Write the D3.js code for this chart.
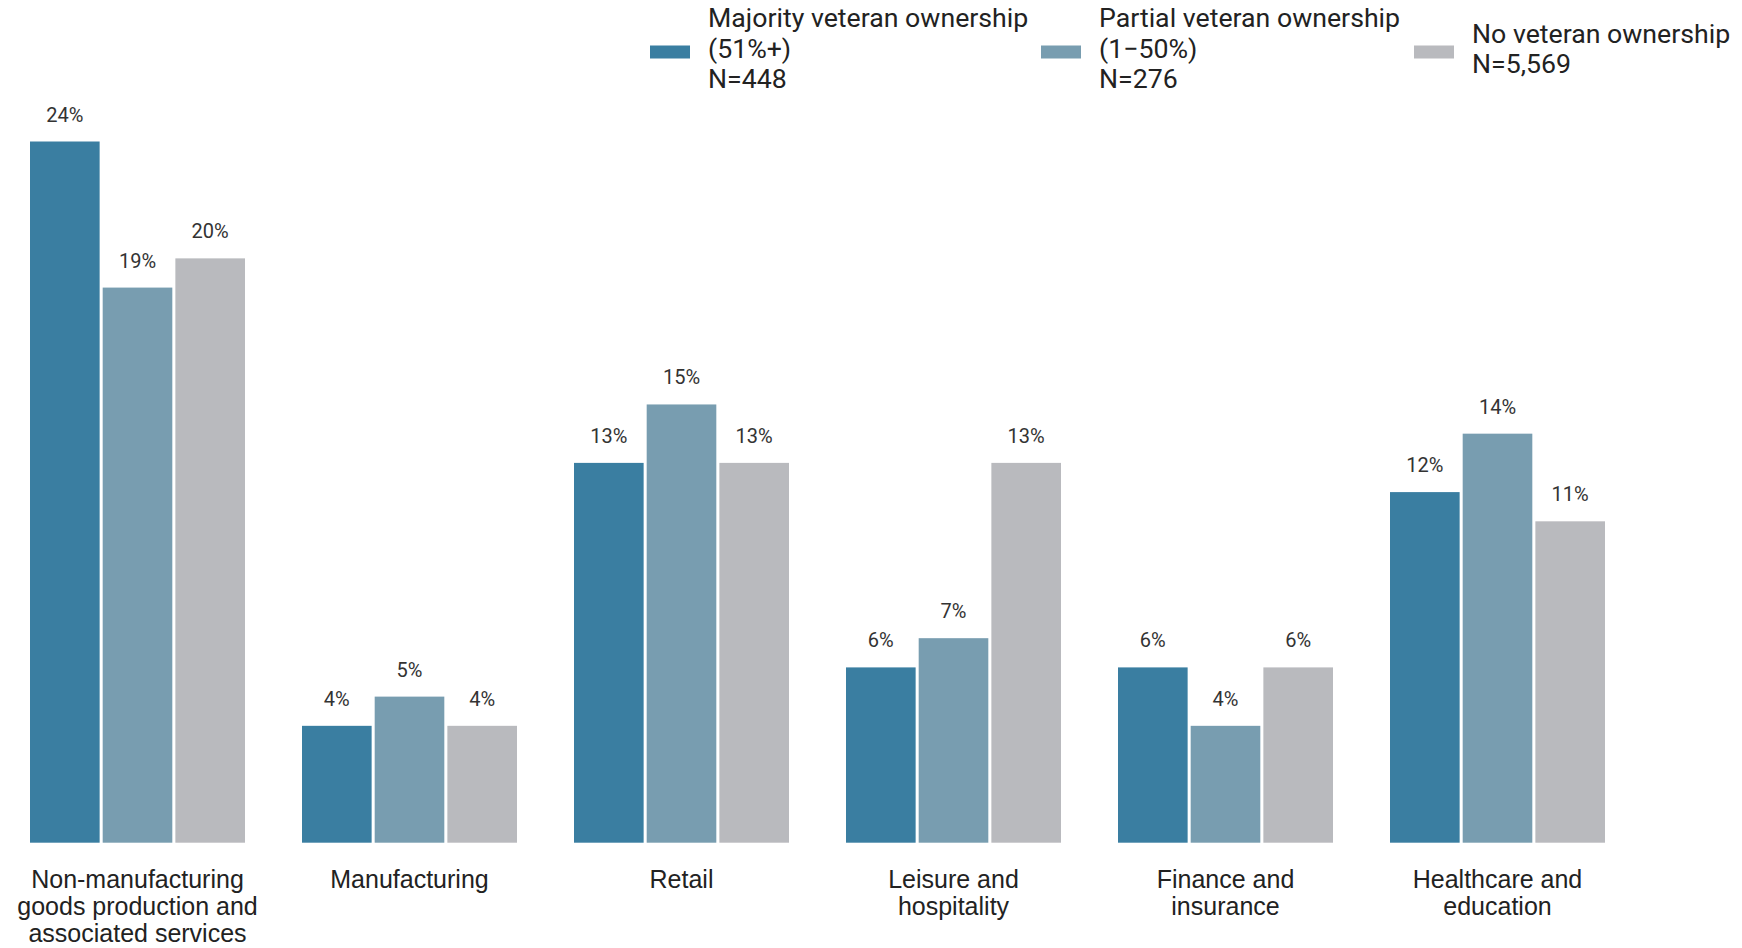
<!DOCTYPE html>
<html>
<head>
<meta charset="utf-8">
<script src="https://cdn.jsdelivr.net/npm/d3@7"></script>
<style>
  html, body { margin: 0; padding: 0; background: #fff; }
  svg { display: block; }
</style>
</head>
<body>
<svg id="chart" width="1742" height="948"></svg>
<script>
const categories = [
  "Non-manufacturing\ngoods production and\nassociated services",
  "Manufacturing",
  "Retail",
  "Leisure and\nhospitality",
  "Finance and\ninsurance",
  "Healthcare and\neducation"
];
const seriesNames = ["Majority", "Partial", "None"];
const legendLines = [
  ["Majority veteran ownership", "(51%+)", "N=448"],
  ["Partial veteran ownership", "(1\u221250%)", "N=276"],
  ["No veteran ownership", "N=5,569"]
];
const majorityValues = [24, 4, 13, 6, 6, 12];
const partialValues  = [19, 5, 15, 7, 4, 14];
const noneValues     = [20, 4, 13, 13, 6, 11];
const valuesBySeries = [majorityValues, partialValues, noneValues];
const colors = ["#3a7ea1", "#789db0", "#b9babe"];

const svg = d3.select("#chart");

const x0 = d3.scaleBand().domain(categories).range([1.5, 1633.5])
  .paddingInner(57 / 272).paddingOuter(57 / 544);
const x1 = d3.scaleBand().domain(seriesNames).range([0, x0.bandwidth()])
  .paddingInner(0.042).paddingOuter(0);
const y = d3.scaleLinear().domain([0, 24]).range([842.7, 141.5]);

const groups = svg.append("g").selectAll("g")
  .data(categories)
  .join("g")
  .attr("transform", d => `translate(${x0(d)},0)`);

groups.each(function(cat, ci) {
  const g = d3.select(this);
  const rows = seriesNames.map((s, si) => ({ s, si, v: valuesBySeries[si][ci] }));
  g.selectAll("rect")
    .data(rows)
    .join("rect")
    .attr("x", d => x1(d.s))
    .attr("y", d => y(d.v))
    .attr("width", x1.bandwidth())
    .attr("height", d => y(0) - y(d.v))
    .attr("fill", d => colors[d.si]);
  g.selectAll("text.val")
    .data(rows)
    .join("text")
    .attr("class", "val")
    .attr("x", d => x1(d.s) + x1.bandwidth() / 2)
    .attr("y", d => y(d.v) - 20)
    .attr("text-anchor", "middle")
    .attr("font-family", "Roboto, sans-serif")
    .attr("font-size", 20)
    .attr("fill", "#333")
    .text(d => d.v + "%");
});

// category labels
const catLabels = svg.append("g").selectAll("text")
  .data(categories)
  .join("text")
  .attr("x", d => x0(d) + x0.bandwidth() / 2)
  .attr("y", 887.5)
  .attr("text-anchor", "middle")
  .attr("font-family", "'Liberation Sans', Arial, sans-serif")
  .attr("font-size", 25)
  .attr("fill", "#222");
catLabels.each(function(d) {
  const t = d3.select(this);
  d.split("\n").forEach((line, i) => {
    t.append("tspan")
      .attr("x", x0(d) + x0.bandwidth() / 2)
      .attr("dy", i === 0 ? 0 : 27.4)
      .text(line);
  });
});

// legend
const legendX = [650, 1041, 1414];
const legendBase = [27, 27, 42.5];
const leg = svg.append("g").selectAll("g")
  .data(legendLines)
  .join("g")
  .attr("transform", (d, i) => `translate(${legendX[i]},0)`);
leg.append("rect")
  .attr("x", 0).attr("y", 45.5)
  .attr("width", 40).attr("height", 13)
  .attr("fill", (d, i) => colors[i]);
leg.each(function(lines, i) {
  const t = d3.select(this).append("text")
    .attr("x", 58)
    .attr("y", legendBase[i])
    .attr("font-family", "Roboto, sans-serif")
    .attr("font-size", 26.7)
    .attr("fill", "#222");
  lines.forEach((line, li) => {
    t.append("tspan").attr("x", 58).attr("dy", li === 0 ? 0 : 30.5).text(line);
  });
});
</script>
</body>
</html>
